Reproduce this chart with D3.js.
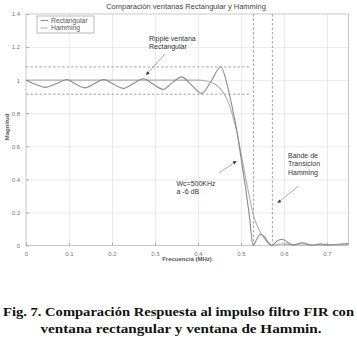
<!DOCTYPE html>
<meta charset="utf-8">
<script src="https://d3js.org/d3.v7.min.js"></script>
<style>
    body { margin: 0; background: #fff; }
    svg { display: block; }
    .tick text { fill: #777; font-size: 6px; font-family: "Liberation Sans", Arial, sans-serif; }
    .axis path { display: none; }
    .axis line { stroke: #aaa; }
    .grid line { stroke: #e4e4e4; stroke-width: 0.8; }
    .grid path { display: none; }
    .curve { fill: none; stroke-width: 1.1; }
    .ann { font-family: "Liberation Sans", Arial, sans-serif; fill: #333; font-size: 7px; }
    .caption { font-family: "Liberation Serif", "Times New Roman", serif; font-weight: bold; font-size: 13px; fill: #111; }
</style>
<body>
<svg width="357" height="340" id="chart"></svg>
</body>
<script>
    // tick labels
    const xTicks = [0, 0.1, 0.2, 0.3, 0.4, 0.5, 0.6, 0.7];
    const yTicks = [0, 0.2, 0.4, 0.6, 0.8, 1, 1.2, 1.4];

    // rectangular window response (freq MHz, magnitude)
    const rectFreq = [0, 0.022, 0.044, 0.07, 0.095, 0.116, 0.137, 0.16, 0.181, 0.204, 0.226, 0.25, 0.273,
        0.296, 0.319, 0.34, 0.362, 0.385, 0.408, 0.43, 0.453, 0.468, 0.48, 0.49, 0.5, 0.51, 0.52, 0.528,
        0.536, 0.545, 0.555, 0.564, 0.572, 0.584, 0.596, 0.608, 0.62, 0.63, 0.642, 0.655, 0.665, 0.685,
        0.7, 0.72, 0.735, 0.75];
    const rectMag = [1.0, 0.975, 0.956, 0.978, 1.004, 0.975, 0.953, 0.98, 1.004, 0.975, 0.95, 0.98, 1.008,
        0.975, 0.944, 0.985, 1.02, 0.97, 0.92, 0.99, 1.081, 0.97, 0.83, 0.7, 0.53, 0.36, 0.17, 0.0,
        0.035, 0.068, 0.05, 0.015, 0.0, 0.028, 0.038, 0.02, 0.004, 0.008, 0.016, 0.008, 0.002, 0.01,
        0.004, 0.006, 0.01, 0.012];

    // hamming window response
    const hammFreq = [0, 0.1, 0.2, 0.3, 0.4, 0.42, 0.44, 0.46, 0.47, 0.48, 0.49, 0.5, 0.51, 0.52, 0.528,
        0.536, 0.546, 0.556, 0.565, 0.575, 0.588, 0.6, 0.62, 0.65, 0.7, 0.75];
    const hammMag = [1.0, 1.0, 1.0, 1.0, 1.0, 0.995, 0.975, 0.92, 0.87, 0.79, 0.69, 0.56, 0.42, 0.29, 0.19,
        0.13, 0.075, 0.038, 0.012, 0.0, 0.008, 0.01, 0.004, 0.003, 0.002, 0.005];

    // ripple bands and transition band edges
    const rippleLevels = [1.08, 0.915];
    const rippleEnd = 0.521;
    const transEdges = [0.529, 0.573];

    const svg = d3.select('#chart');
    const x = d3.scaleLinear().domain([0, 0.75]).range([26, 348.5]);
    const y = d3.scaleLinear().domain([0, 1.4]).range([245.5, 14]);
    const fmt = d3.format('~g');

    // grid
    svg.append('g').attr('class', 'grid')
        .attr('transform', 'translate(0,' + y(0) + ')')
        .call(d3.axisBottom(x).tickValues(xTicks.slice(1)).tickSize(-(y(0) - y(1.4))).tickFormat(''));
    svg.append('g').attr('class', 'grid')
        .attr('transform', 'translate(' + x(0) + ',0)')
        .call(d3.axisLeft(y).tickValues(yTicks.slice(1, -1)).tickSize(-(x(0.75) - x(0))).tickFormat(''));

    // frame
    svg.append('rect')
        .attr('x', x(0)).attr('y', y(1.4))
        .attr('width', x(0.75) - x(0)).attr('height', y(0) - y(1.4))
        .attr('fill', 'none').attr('stroke', '#bbb').attr('stroke-width', 0.8);

    // axes
    svg.append('g').attr('class', 'axis')
        .attr('transform', 'translate(0,' + y(0) + ')')
        .call(d3.axisBottom(x).tickValues(xTicks).tickSizeInner(-3).tickPadding(6).tickFormat(fmt));
    svg.append('g').attr('class', 'axis')
        .attr('transform', 'translate(' + x(0) + ',0)')
        .call(d3.axisLeft(y).tickValues(yTicks).tickSizeInner(-3).tickPadding(6).tickFormat(fmt));

    // ripple limits
    svg.selectAll('.ripple').data(rippleLevels).enter().append('line')
        .attr('x1', x(0)).attr('x2', x(rippleEnd))
        .attr('y1', d => y(d)).attr('y2', d => y(d))
        .attr('stroke', '#999').attr('stroke-width', 0.9).attr('stroke-dasharray', '2.5,2');

    // transition band edges
    svg.selectAll('.edge').data(transEdges).enter().append('line')
        .attr('x1', d => x(d)).attr('x2', d => x(d))
        .attr('y1', y(1.4)).attr('y2', y(0))
        .attr('stroke', '#999').attr('stroke-width', 0.9).attr('stroke-dasharray', '2.5,2');

    const line = d3.line().x(d => x(d[0])).y(d => y(d[1])).curve(d3.curveMonotoneX);

    svg.append('path').attr('class', 'curve')
        .datum(hammFreq.map((f, i) => [f, hammMag[i]]))
        .attr('stroke', '#b0b0b0').attr('d', line);
    svg.append('path').attr('class', 'curve')
        .datum(rectFreq.map((f, i) => [f, rectMag[i]]))
        .attr('stroke', '#8a8a8a').attr('d', line);

    // title and axis labels
    svg.append('text').attr('x', 186).attr('y', 8.5).attr('text-anchor', 'middle')
        .attr('class', 'ann').style('font-size', '7.5px').style('fill', '#444')
        .text('Comparación ventanas Rectangular y Hamming');
    svg.append('text').attr('x', 187).attr('y', 260.5).attr('text-anchor', 'middle')
        .attr('class', 'ann').style('font-size', '6px').style('font-weight', 'bold').style('fill', '#555')
        .text('Frecuencia (MHz)');
    svg.append('text').attr('transform', 'translate(9,127) rotate(-90)').attr('text-anchor', 'middle')
        .attr('class', 'ann').style('font-size', '6px').style('font-weight', 'bold').style('fill', '#555')
        .text('Magnitud');

    // legend
    const legend = svg.append('g');
    legend.append('rect').attr('x', 37).attr('y', 16).attr('width', 57).attr('height', 17)
        .attr('fill', '#fff').attr('stroke', '#aaa').attr('stroke-width', 0.8);
    [['Rectangular', '#8a8a8a'], ['Hamming', '#b0b0b0']].forEach((d, i) => {
        const yy = 20.5 + i * 7.5;
        legend.append('line').attr('x1', 40.5).attr('x2', 48).attr('y1', yy).attr('y2', yy)
            .attr('stroke', d[1]).attr('stroke-width', 1);
        legend.append('text').attr('x', 51).attr('y', yy + 2.2).attr('class', 'ann')
            .style('font-size', '6.8px').style('fill', '#555').text(d[0]);
    });

    // annotations
    function arrow(x1, y1, x2, y2) {
        svg.append('line').attr('x1', x1).attr('y1', y1).attr('x2', x2).attr('y2', y2)
            .attr('stroke', '#888').attr('stroke-width', 0.7);
        const a = Math.atan2(y2 - y1, x2 - x1), L = 4, w = 0.45;
        svg.append('path')
            .attr('d', 'M' + x2 + ',' + y2 + 'L' + (x2 - L * Math.cos(a - w)) + ',' + (y2 - L * Math.sin(a - w)) +
                'L' + (x2 - L * Math.cos(a + w)) + ',' + (y2 - L * Math.sin(a + w)) + 'Z')
            .attr('fill', '#333');
    }
    function label(lines, x0, y0, dy) {
        const t = svg.append('text').attr('class', 'ann');
        lines.forEach((s, i) => t.append('tspan').attr('x', x0).attr('y', y0 + i * dy).text(s));
    }
    label(['Ripple ventana', 'Rectangular'], 149, 40.8, 7.7);
    arrow(165, 54, 146, 75);
    label(['Wc=500KHz', 'a -6 dB'], 176.5, 185.8, 7.8);
    arrow(219, 173, 236.5, 161);
    label(['Bande de', 'Transicion', 'Hamming'], 288, 157.8, 8.6);
    arrow(298.5, 186, 277.5, 203);

    // caption (scanned type is wider than the font, so stretch to the printed width)
    svg.append('text').attr('class', 'caption').attr('x', 3).attr('y', 315.5)
        .attr('textLength', 351).attr('lengthAdjust', 'spacingAndGlyphs')
        .text('Fig. 7. Comparación Respuesta al impulso filtro FIR con');
    svg.append('text').attr('class', 'caption').attr('x', 40.5).attr('y', 332.5)
        .attr('textLength', 281).attr('lengthAdjust', 'spacingAndGlyphs')
        .text('ventana rectangular y ventana de Hammin.');
</script>
